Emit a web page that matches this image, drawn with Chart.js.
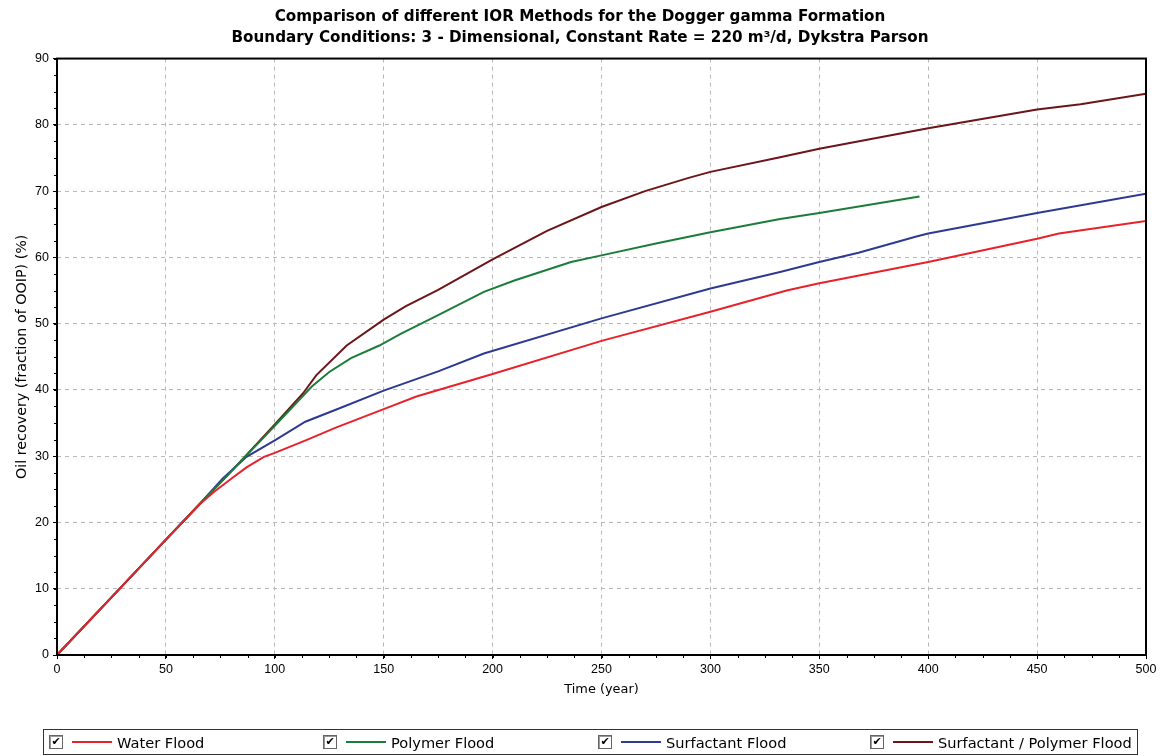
<!DOCTYPE html>
<html>
<head>
<meta charset="utf-8">
<title>IOR methods - Dogger gamma</title>
<script src="https://cdn.jsdelivr.net/npm/chart.js@4.4.1/dist/chart.umd.min.js"></script>
<style>
  body { margin: 0; background: #fff; }
  #wrap { position: relative; width: 1164px; height: 756px; }
  #legend {
    position: absolute; left: 43px; top: 729px; width: 1095px; height: 26px;
    border: 1px solid #333; box-sizing: border-box;
    font-family: 'DejaVu Sans', sans-serif; font-size: 14.6px; color: #000;
  }
  .item { position: absolute; top: 3px; height: 18px; display: flex; align-items: center; white-space: nowrap; }
  .chk {
    width: 12px; height: 12px; border: 1px solid #666; box-shadow: inset 1px 1px 0 #999;
    font-size: 11px; line-height: 12px; text-align: center; font-weight: bold;
  }
  .swatch { width: 40px; height: 2px; margin: 0 5px 0 9px; }
</style>
</head>
<body>
<div id="wrap">
  <canvas id="myChart"></canvas>
  <div id="legend"></div>
</div>
<script>
// recovery curves, time in years, recovery in % of OOIP
const seriesNames = ['Water Flood', 'Polymer Flood', 'Surfactant Flood', 'Surfactant / Polymer Flood'];
const seriesColors = ['#e8222a', '#1c7d3a', '#2d3a92', '#6d1519'];

const waterTime = [0, 25, 50, 65, 72, 80, 87, 95, 100, 115, 128, 150, 165, 200, 250, 300, 335, 350, 400, 450, 460, 500];
const waterRec  = [0, 8.7, 17.4, 22.6, 24.6, 26.6, 28.3, 29.9, 30.5, 32.5, 34.3, 37.1, 39.0, 42.4, 47.4, 51.8, 55.0, 56.1, 59.3, 62.8, 63.6, 65.5];

const polymerTime = [0, 25, 50, 65, 80, 100, 117, 125, 135, 148, 158, 175, 196, 210, 236, 250, 275, 300, 332, 350, 396];
const polymerRec  = [0, 8.7, 17.4, 22.6, 27.7, 34.6, 40.5, 42.7, 44.8, 46.7, 48.5, 51.3, 54.8, 56.5, 59.3, 60.3, 62.1, 63.8, 65.8, 66.7, 69.2];

const surfTime = [0, 25, 50, 65, 76, 87, 100, 114, 128, 150, 175, 196, 250, 300, 332, 350, 368, 395, 400, 450, 500];
const surfRec  = [0, 8.7, 17.4, 22.6, 26.6, 29.9, 32.4, 35.2, 37.0, 39.9, 42.8, 45.5, 50.8, 55.3, 57.8, 59.3, 60.7, 63.2, 63.6, 66.7, 69.6];

const spTime = [0, 25, 50, 65, 80, 100, 113, 119, 133, 150, 160, 175, 200, 225, 250, 270, 290, 300, 332, 350, 400, 450, 470, 500];
const spRec  = [0, 8.7, 17.4, 22.6, 27.7, 34.8, 39.5, 42.2, 46.7, 50.6, 52.6, 55.1, 59.7, 64.0, 67.6, 70.0, 72.0, 72.9, 75.1, 76.4, 79.5, 82.3, 83.1, 84.7];

const xMin = 0, xMax = 500, xStep = 50, xMinor = 12.5;
const yMin = 0, yMax = 90, yStep = 10, yMinor = 2.5;

const titleLines = [
  'Comparison of different IOR Methods for the Dogger gamma Formation',
  'Boundary Conditions: 3 - Dimensional, Constant Rate = 220 m\u00b3/d, Dykstra Parson'
];

function toPoints(t, v) {
  return t.map((x, i) => ({x: x, y: v[i]}));
}

const allSeries = [
  toPoints(waterTime, waterRec),
  toPoints(polymerTime, polymerRec),
  toPoints(surfTime, surfRec),
  toPoints(spTime, spRec)
];

// frame round the plot and the small in-between tick marks
const framePlugin = {
  id: 'frame',
  afterDraw(chart) {
    const {ctx, chartArea: a, scales} = chart;
    ctx.save();
    ctx.strokeStyle = '#000';
    ctx.lineWidth = 1;
    ctx.beginPath();
    for (let v = xMin; v <= xMax; v += xMinor) {
      const px = Math.round(scales.x.getPixelForValue(v)) + 0.5;
      ctx.moveTo(px, a.bottom);
      ctx.lineTo(px, a.bottom + 3);
    }
    for (let v = yMin; v <= yMax; v += yMinor) {
      const py = Math.round(scales.y.getPixelForValue(v)) + 0.5;
      ctx.moveTo(a.left, py);
      ctx.lineTo(a.left - 3, py);
    }
    ctx.stroke();
    ctx.lineWidth = 2;
    ctx.strokeRect(a.left, a.top, a.right - a.left, a.bottom - a.top);
    ctx.restore();
  }
};

const tickFont = {family: "'Liberation Sans', Arial, sans-serif", size: 12.5};

const ctx = document.getElementById('myChart').getContext('2d');
const myChart = new Chart(ctx, {
  type: 'line',
  data: {
    datasets: allSeries.map((pts, i) => ({
      label: seriesNames[i],
      data: pts,
      borderColor: seriesColors[i],
      backgroundColor: seriesColors[i],
      borderWidth: 2,
      pointRadius: 0,
      tension: 0,
      fill: false
    }))
  },
  options: {
    responsive: true,
    maintainAspectRatio: false,
    animation: false,
    layout: {padding: {left: 14, right: 18, top: 0, bottom: 56}},
    plugins: {
      legend: {display: false},
      tooltip: {enabled: false},
      title: {
        display: true,
        text: titleLines,
        color: '#000',
        font: {family: "'DejaVu Sans', sans-serif", size: 15.2, weight: 'bold', lineHeight: 1.4},
        padding: {top: 6, bottom: 10}
      }
    },
    scales: {
      x: {
        type: 'linear',
        min: xMin, max: xMax,
        ticks: {stepSize: xStep, color: '#000', font: tickFont, padding: 3, maxRotation: 0},
        grid: {color: '#b8b8b8', borderDash: [4, 4], tickColor: '#000', tickLength: 4, tickBorderDash: []},
        border: {display: false, dash: [4, 4]},
        title: {
          display: true, text: 'Time (year)', color: '#000',
          font: {family: "'DejaVu Sans', sans-serif", size: 12.9}, padding: {top: 0, bottom: 3}
        },
        afterFit(scale) { scale.height = 45; }
      },
      y: {
        min: yMin, max: yMax,
        ticks: {stepSize: yStep, color: '#000', font: tickFont, padding: 4},
        grid: {color: '#b8b8b8', borderDash: [4, 4], tickColor: '#000', tickLength: 4, tickBorderDash: []},
        border: {display: false, dash: [4, 4]},
        title: {
          display: true, text: 'Oil recovery (fraction of OOIP) (%)', color: '#000',
          font: {family: "'DejaVu Sans', sans-serif", size: 14.3}, padding: {top: 0, bottom: 0}
        },
        afterFit(scale) { scale.width = 43; }
      }
    }
  },
  plugins: [framePlugin]
});

// checkbox legend under the plot
const legendLeft = [5, 279, 554, 826];
const legend = document.getElementById('legend');
seriesNames.forEach((name, i) => {
  const item = document.createElement('div');
  item.className = 'item';
  item.style.left = legendLeft[i] + 'px';
  item.innerHTML = '<span class="chk">\u2714</span><span class="swatch" style="background:' +
    seriesColors[i] + '"></span><span>' + name + '</span>';
  legend.appendChild(item);
});
</script>
</body>
</html>
